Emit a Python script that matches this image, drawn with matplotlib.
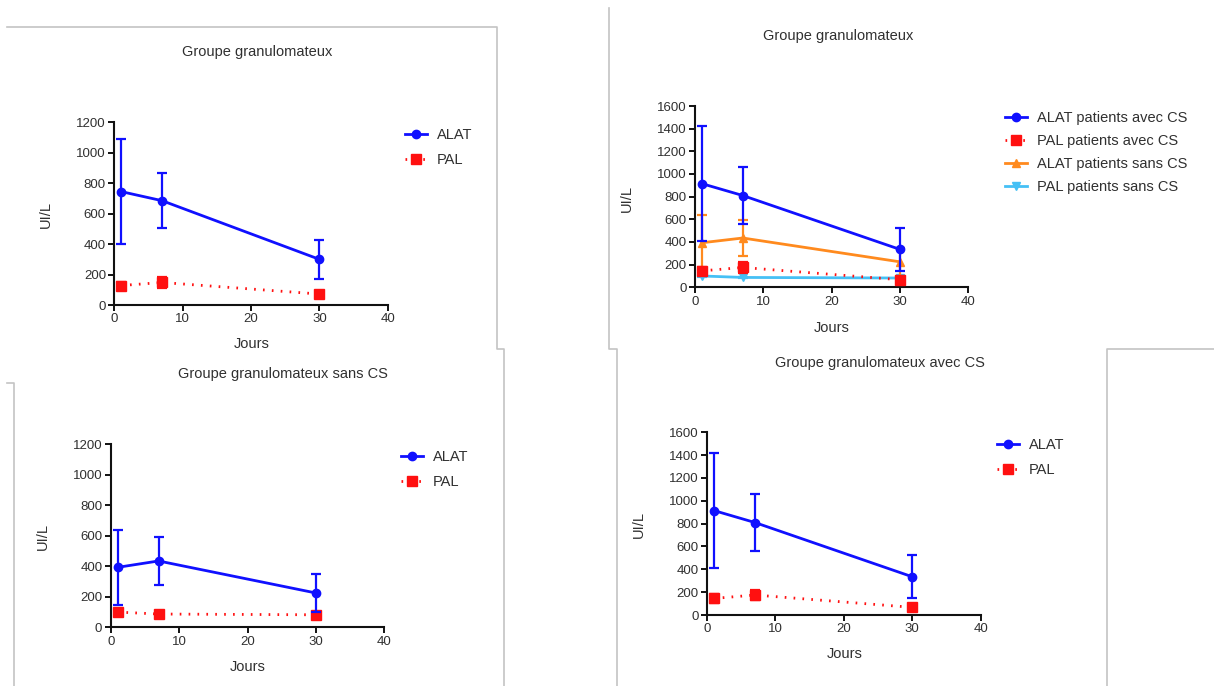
import matplotlib
matplotlib.use("Agg")
import matplotlib.pyplot as plt
from matplotlib.lines import Line2D

plt.rcParams['font.family'] = ['Liberation Sans', 'DejaVu Sans']

W, H = 1214, 686

# ---- data ----
jours = [1, 7, 30]
x_ticks = [0, 10, 20, 30, 40]

# all granulomatous group
alat_all = [745, 685, 300]
alat_all_err = [343, 181, 127]
pal_all = [128, 148, 72]
pal_all_err = [25, 35, 10]

# with CS
alat_avec = [915, 810, 335]
alat_avec_err = [505, 250, 190]
pal_avec = [145, 175, 67]
pal_avec_err = [38, 45, 15]

# without CS
alat_sans = [393, 435, 225]
alat_sans_err = [248, 158, 125]
pal_sans = [100, 87, 82]
pal_sans_err = [10, 8, 8]

titles = ["Groupe granulomateux", "Groupe granulomateux",
          "Groupe granulomateux sans CS", "Groupe granulomateux avec CS"]
y_ticks_1200 = [0, 200, 400, 600, 800, 1000, 1200]
y_ticks_1600 = [0, 200, 400, 600, 800, 1000, 1200, 1400, 1600]

BLUE = '#1010ff'
RED = '#ff1010'
ORANGE = '#ff8a1e'
LBLUE = '#45c0f5'
TXT = '#303030'

fig = plt.figure(figsize=(W / 100, H / 100), dpi=100)


def fx(x):
    return x / W


def fy(y):
    return 1 - y / H


def make_ax(x0, x1, y0, y1):
    ax = fig.add_axes([fx(x0), fy(y0), (x1 - x0) / W, (y0 - y1) / H])
    for s in ['top', 'right']:
        ax.spines[s].set_visible(False)
    for s in ['left', 'bottom']:
        ax.spines[s].set_linewidth(1.5)
        ax.spines[s].set_color('#111111')
    ax.tick_params(direction='out', length=4, width=1.4, labelsize=9.5,
                   colors='#111111', labelcolor=TXT, pad=2)
    ax.set_xlim(0, 40)
    ax.set_xticks(x_ticks)
    ax.patch.set_alpha(0)
    return ax


def series(ax, y, err, color, marker, ls, ms, z, label):
    ax.errorbar(jours, y, yerr=err, color=color, marker=marker, ms=ms,
                lw=2.0, ls=ls, elinewidth=1.6,
                capsize=3.5, capthick=1.6, clip_on=False, zorder=z,
                label=label)
    ax._leg_items = getattr(ax, '_leg_items', [])
    ax._leg_items.append((Line2D([], [], color=color, ls=ls, lw=2.0,
                                 marker=marker, ms=ms), label))


dotted = (0, (0.6, 2.6))

# Panel 1
ax1 = make_ax(114.3, 387.7, 305, 122.3)
ax1.set_ylim(0, 1200)
ax1.set_yticks(y_ticks_1200)
series(ax1, alat_all, alat_all_err, BLUE, 'o', '-', 6, 4, 'ALAT')
series(ax1, pal_all, pal_all_err, RED, 's', dotted, 6.5, 3, 'PAL')

# Panel 2
ax2 = make_ax(695, 968, 287.3, 106)
ax2.set_ylim(0, 1600)
ax2.set_yticks(y_ticks_1600)
series(ax2, alat_avec, alat_avec_err, BLUE, 'o', '-', 6, 5, 'ALAT patients avec CS')
series(ax2, pal_avec, pal_avec_err, RED, 's', dotted, 6.5, 4, 'PAL patients avec CS')
series(ax2, alat_sans, alat_sans_err, ORANGE, '^', '-', 6, 3, 'ALAT patients sans CS')
series(ax2, pal_sans, pal_sans_err, LBLUE, 'v', '-', 6, 2, 'PAL patients sans CS')

# Panel 3
ax3 = make_ax(110.7, 384.3, 627.3, 444.3)
ax3.set_ylim(0, 1200)
ax3.set_yticks(y_ticks_1200)
series(ax3, alat_sans, alat_sans_err, BLUE, 'o', '-', 6, 4, 'ALAT')
series(ax3, pal_sans, pal_sans_err, RED, 's', dotted, 6.5, 3, 'PAL')

# Panel 4
ax4 = make_ax(707, 980.6, 615, 432.3)
ax4.set_ylim(0, 1600)
ax4.set_yticks(y_ticks_1600)
series(ax4, alat_avec, alat_avec_err, BLUE, 'o', '-', 6, 4, 'ALAT')
series(ax4, pal_avec, pal_avec_err, RED, 's', dotted, 6.5, 3, 'PAL')


def legend(ax, x, y, spacing):
    hs = [h for h, _ in ax._leg_items]
    ls = [l for _, l in ax._leg_items]
    ax.legend(hs, ls, loc='upper left', bbox_to_anchor=(fx(x), fy(y)),
              bbox_transform=fig.transFigure, frameon=False, fontsize=10.5,
              handlelength=1.5, handletextpad=0.7, labelspacing=spacing,
              borderpad=0, borderaxespad=0, labelcolor=TXT)


legend(ax1, 405, 128, 0.75)
legend(ax2, 1005, 111, 0.62)
legend(ax3, 401, 450, 0.75)
legend(ax4, 997, 438, 0.75)

# titles and axis labels
title_pos = [(257, 52), (838, 36), (283, 374), (880, 363)]
for t, (x, y) in zip(titles, title_pos):
    fig.text(fx(x), fy(y), t, ha='center', va='center', fontsize=10.5, color=TXT)
for (x, y) in [(46, 214), (627, 198), (43, 537), (639, 525)]:
    fig.text(fx(x), fy(y), 'UI/L', ha='center', va='center', rotation=90,
             fontsize=10.5, color=TXT)
for (x, y) in [(252, 344), (832, 328), (248, 667), (845, 654)]:
    fig.text(fx(x), fy(y), 'Jours', ha='center', va='center', fontsize=10.5, color=TXT)

# screenshot border lines
borders = [
    [(7, 27), (497, 27), (497, 349), (504, 349), (504, 686)],
    [(609, 8), (609, 349), (617, 349), (617, 686)],
    [(1107, 686), (1107, 349), (1214, 349)],
    [(7, 383), (14, 383), (14, 686)],
]
for pts in borders:
    xs = [fx(p[0]) for p in pts]
    ys = [fy(p[1]) for p in pts]
    fig.add_artist(Line2D(xs, ys, color='#c4c4c4', lw=1.2, transform=fig.transFigure))

fig.savefig('out.png', dpi=100, facecolor='white')
